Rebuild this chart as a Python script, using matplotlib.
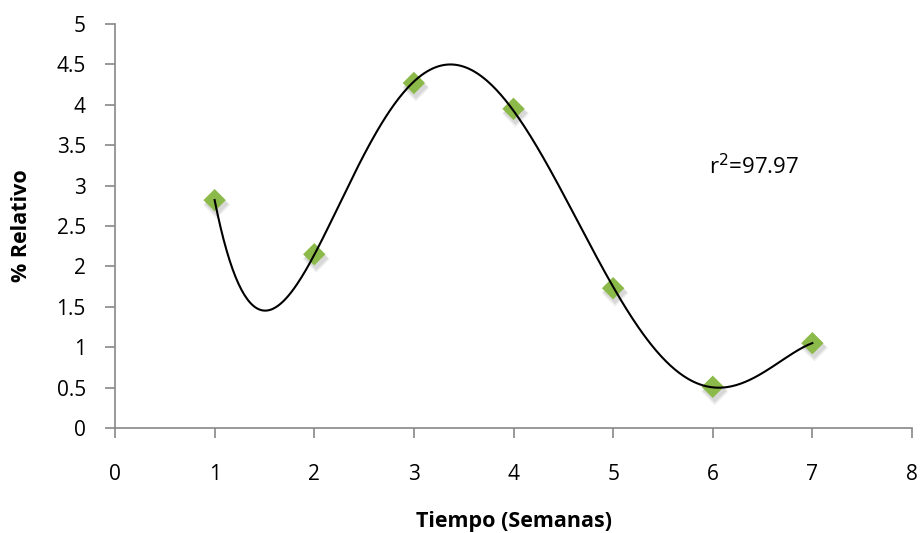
import numpy as np
import matplotlib
matplotlib.use("Agg")
import matplotlib.pyplot as plt

weeks = [1, 2, 3, 4, 5, 6, 7]
relative = [2.82, 2.15, 4.27, 3.95, 1.73, 0.51, 1.05]
x_ticks = [0, 1, 2, 3, 4, 5, 6, 7, 8]
y_ticks = [0, 0.5, 1, 1.5, 2, 2.5, 3, 3.5, 4, 4.5, 5]
y_ticklabels = ["0", "0.5", "1", "1.5", "2", "2.5", "3", "3.5", "4", "4.5", "5"]

plt.rcParams['font.family'] = ['Open Sans', 'DejaVu Sans']

fig = plt.figure(figsize=(9.22, 5.33), dpi=100)
ax = fig.add_axes([115/922, 1-428/533, (912-115)/922, (428-24)/533])

# polynomial trend line fitted to the data
coef = np.polyfit(weeks, relative, 5)
xs = np.linspace(min(weeks), max(weeks), 400)
ax.plot(xs, np.polyval(coef, xs), color='black', lw=1.5, zorder=3)

# soft shadow + markers
for dx, dy, a, s in [(0.02, -0.06, 0.12, 190), (0.02, -0.05, 0.18, 150)]:
    ax.scatter(np.array(weeks) + dx, np.array(relative) + dy, marker='D', s=s,
               color='#777777', alpha=a, edgecolors='none', zorder=2)
ax.scatter(weeks, relative, marker='D', s=130, color='#8cba4a', edgecolors='none', zorder=2)

ax.text(5.96, 3.23, "r$^2$=97.97", fontsize=16, ha='left', va='center')

ax.set_xlim(0, 8)
ax.set_ylim(0, 5)
ax.set_xticks(x_ticks)
ax.set_yticks(y_ticks)
ax.set_yticklabels(y_ticklabels)
for s in ['top', 'right']:
    ax.spines[s].set_visible(False)
for s in ['left', 'bottom']:
    ax.spines[s].set_color('#888888')
    ax.spines[s].set_linewidth(1.2)
ax.tick_params(axis='both', colors='#888888', length=7, width=1.2, labelsize=15,
               labelcolor='black')
ax.tick_params(axis='x', pad=19)
ax.tick_params(axis='y', pad=14)
ax.set_xlabel("Tiempo (Semanas)", fontsize=15.5, fontweight='bold', va='center')
ax.xaxis.set_label_coords(0.5, (428-522)/404)
ax.set_ylabel("% Relativo", fontsize=15.5, fontweight='bold', va='center')
ax.yaxis.set_label_coords((22-115)/797, 0.5)

fig.savefig("out.png", dpi=100)
